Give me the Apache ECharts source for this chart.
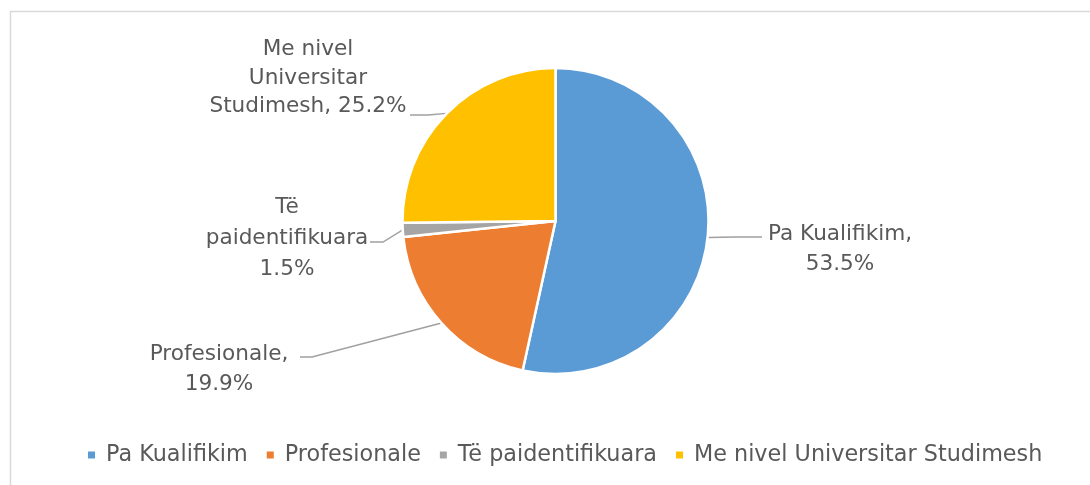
<!DOCTYPE html>
<html>
<head>
<meta charset="utf-8">
<script src="https://cdn.jsdelivr.net/npm/echarts@6/dist/echarts.min.js"></script>
<style>
html,body{margin:0;padding:0;background:#fff;}
#chart{width:1090px;height:485px;}
</style>
</head>
<body>
<div id="chart"></div>
<script>
const categories = ['Pa Kualifikim', 'Profesionale', 'Të paidentifikuara', 'Me nivel Universitar Studimesh'];
const values = [53.5, 19.9, 1.5, 25.2];
const labelTexts = ['Pa Kualifikim,\n53.5%', 'Profesionale,\n19.9%', 'Të\npaidentifikuara\n1.5%', 'Me nivel\nUniversitar\nStudimesh, 25.2%'];
const colors = ['#5B9BD5', '#ED7D31', '#A5A5A5', '#FFC000'];

// label placement (layout only): label centre and label-line bend/end points
const labelPlace = [
  {x: 840, y: 249, bend: [735, 237], end: [762, 237]},
  {x: 219, y: 369, bend: [312, 357], end: [300, 357]},
  {x: 287, y: 238, bend: [383, 242], end: [370, 242]},
  {x: 308, y: 78,  bend: [428, 115], end: [410, 115]}
];
const labelLineHeights = [30, 30, 31, 28.5];

const FONT = '"DejaVu Sans", sans-serif';
const chart = echarts.init(document.getElementById('chart'), null, {renderer: 'canvas'});
chart.setOption({
  animation: false,
  backgroundColor: '#ffffff',
  color: colors,
  graphic: [{
    type: 'rect',
    shape: {x: 10.5, y: 11.5, width: 1100, height: 500},
    style: {fill: 'none', stroke: '#D9D9D9', lineWidth: 1.5},
    silent: true
  }],
  legend: {
    data: categories,
    left: 83,
    top: 439,
    icon: 'rect',
    itemWidth: 7,
    itemHeight: 7,
    itemGap: 19,
    itemStyle: {borderWidth: 0},
    textStyle: {color: '#595959', fontSize: 22.3, fontFamily: FONT, padding: [0, 0, 0, 6]}
  },
  series: [{
    type: 'pie',
    center: [555.5, 221],
    radius: 153,
    startAngle: 90,
    clockwise: true,
    itemStyle: {borderColor: '#ffffff', borderWidth: 2.5},
    label: {
      show: true,
      position: 'outside',
      color: '#595959',
      fontSize: 21.6,
      fontFamily: FONT,
      lineHeight: 30,
      formatter: function (p) { return labelTexts[p.dataIndex]; }
    },
    labelLine: {
      show: true,
      length: 10,
      length2: 10,
      lineStyle: {color: '#A0A0A0', width: 1.4}
    },
    labelLayout: function (params) {
      const pl = labelPlace[params.dataIndex];
      const p0 = params.labelLinePoints ? params.labelLinePoints[0] : pl.bend;
      return {
        x: pl.x,
        y: pl.y,
        align: 'center',
        verticalAlign: 'middle',
        labelLinePoints: [p0, pl.bend, pl.end]
      };
    },
    data: categories.map(function (c, i) {
      return {name: c, value: values[i], label: {lineHeight: labelLineHeights[i]}};
    })
  }]
});
</script>
</body>
</html>
